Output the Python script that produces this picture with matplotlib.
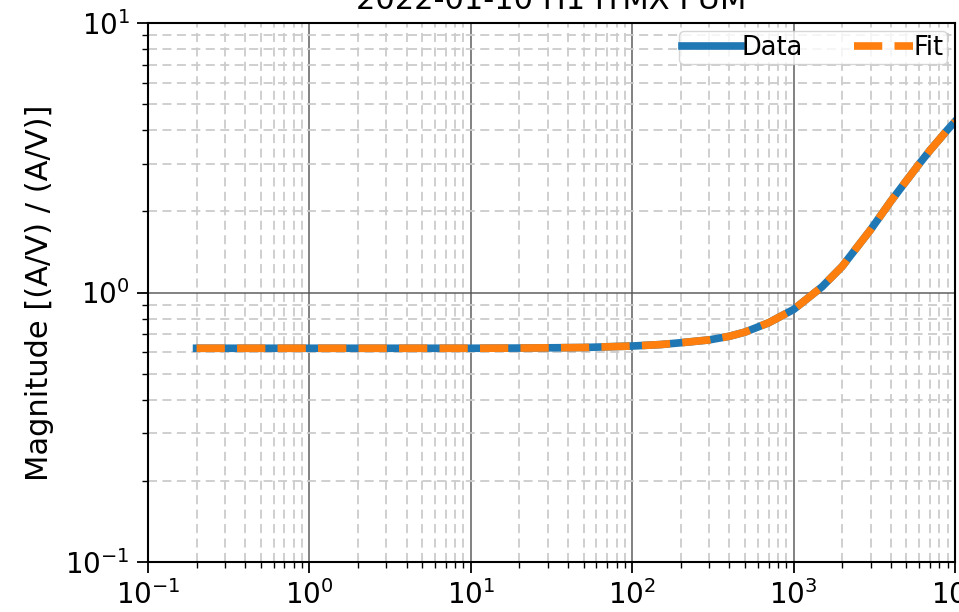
import matplotlib.pyplot as plt

# frequency [Hz] and magnitude
freq = [0.2, 0.5, 1, 2, 5, 10, 20, 50, 100, 150, 200, 300, 400, 500, 700,
        1000, 1500, 2000, 3000, 4000, 5000, 6000, 7000, 8000, 9000, 10000]
mag_data = [0.621, 0.621, 0.621, 0.621, 0.621, 0.621, 0.622, 0.625, 0.633,
            0.641, 0.651, 0.667, 0.688, 0.713, 0.772, 0.865, 1.05, 1.25,
            1.71, 2.18, 2.60, 3.00, 3.37, 3.70, 4.02, 4.31]
mag_fit = [0.621, 0.621, 0.621, 0.621, 0.621, 0.621, 0.622, 0.625, 0.633,
           0.641, 0.651, 0.667, 0.688, 0.713, 0.772, 0.865, 1.05, 1.25,
           1.71, 2.18, 2.60, 3.00, 3.37, 3.70, 4.02, 4.31]

title = "2022-01-10 H1 ITMX PUM"
ylabel = "Magnitude [(A/V) / (A/V)]"

fig = plt.figure(figsize=(9.59, 6.12), dpi=100)
ax = fig.add_axes([148 / 959, 50 / 612, 807 / 959, 539 / 612])

ax.loglog(freq, mag_data, color='#1f77b4', lw=5.5, label='Data')
ax.loglog(freq, mag_fit, color='#ff7f0e', lw=5.5, ls='--', label='Fit')

ax.set_xlim(0.1, 1e4)
ax.set_ylim(0.1, 10)

ax.grid(True, which='major', color='#555555', lw=1.3, alpha=0.8)
ax.grid(True, which='minor', color='#cccccc', lw=1.3, ls='--', dashes=(5, 3))

ax.tick_params(which='major', labelsize=20, length=8, width=1.3, pad=5)
ax.tick_params(which='minor', length=4.5, width=1.0)
for s in ax.spines.values():
    s.set_linewidth(1.5)

ax.set_ylabel(ylabel, fontsize=22, labelpad=8)
ax.set_title(title, fontsize=22, pad=10)

ax.legend(loc='upper right', ncol=2, fontsize=18.5, handlelength=2.3,
          handletextpad=0.0, columnspacing=2.0, borderpad=0.15,
          borderaxespad=0.3)

fig.savefig('out.png', dpi=100)
